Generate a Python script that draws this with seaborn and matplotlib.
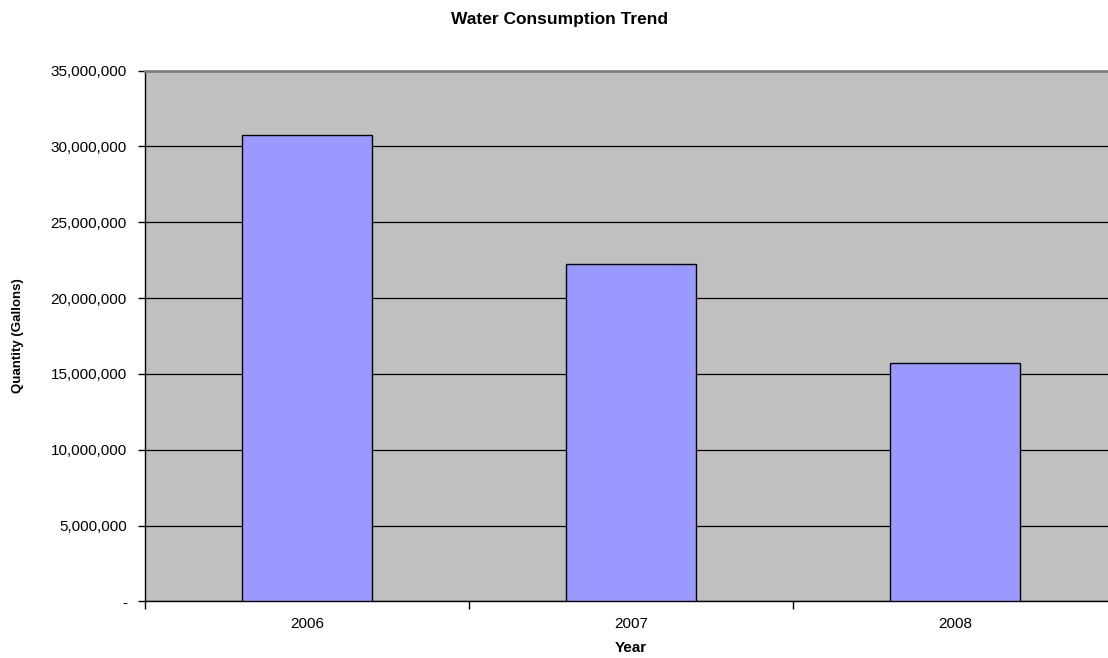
import pandas as pd
import seaborn as sns
import matplotlib.pyplot as plt
from matplotlib.ticker import FuncFormatter

years = ['2006', '2007', '2008']
gallons = [30750000, 22250000, 15750000]

data = pd.DataFrame({'Year': years, 'Quantity': gallons})

sns.set_style('white')
plt.rcParams['font.family'] = ['Liberation Sans', 'DejaVu Sans']
plt.rcParams['text.color'] = 'black'
plt.rcParams['xtick.color'] = 'black'
plt.rcParams['ytick.color'] = 'black'
plt.rcParams['axes.labelcolor'] = 'black'

fig = plt.figure(figsize=(11.08, 6.58), dpi=100)
ax = fig.add_axes([0.1309, 0.0859, 0.877, 0.8067])
ax.set_facecolor('#C0C0C0')

sns.barplot(data, x='Year', y='Quantity', color='#9999FF', saturation=1,
            edgecolor='black', linewidth=1, width=0.4, ax=ax, zorder=3)

ax.set_xlim(-0.5, 2.5)
ax.set_ylim(0, 35000000)
ax.set_yticks(range(0, 35000001, 5000000))
ax.yaxis.set_major_formatter(FuncFormatter(lambda v, p: '-' if v == 0 else f'{int(v):,}'))
ax.grid(axis='y', color='black', linewidth=0.9, zorder=0)
ax.set_axisbelow(True)

# ticks between categories, like the spreadsheet original
ax.set_xticks([-0.5, 0.5, 1.5, 2.5], minor=False)
ax.set_xticklabels([])
ax.set_xticks([0, 1, 2], minor=True)
ax.set_xticklabels(years, minor=True)
ax.tick_params(axis='x', which='major', direction='out', length=6, width=1, color='black', bottom=True)
ax.tick_params(axis='x', which='minor', length=0, pad=11, labelsize=11)
ax.tick_params(axis='y', direction='out', length=5, width=1, color='black', left=True, labelsize=11, pad=8)

for side in ['left', 'bottom']:
    ax.spines[side].set_color('black')
    ax.spines[side].set_linewidth(1)
ax.spines['right'].set_visible(False)
ax.spines['top'].set_color('#808080')
ax.spines['top'].set_linewidth(2)

ax.set_xlabel('')
ax.set_ylabel('')
fig.text(0.505, 0.971, 'Water Consumption Trend', ha='center', va='center', fontsize=12.5, fontweight='bold')
fig.text(0.569, 0.015, 'Year', ha='center', va='center', fontsize=11, fontweight='bold')
fig.text(0.016, 0.49, 'Quantity (Gallons)', ha='center', va='center', rotation=90, fontsize=9.5, fontweight='bold')

fig.savefig('out.png', dpi=100)
